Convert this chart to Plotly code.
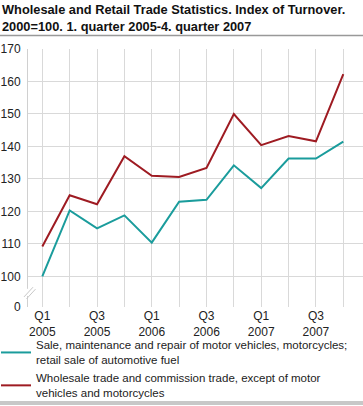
import plotly.graph_objects as go

quarters = ["Q1 2005", "Q2 2005", "Q3 2005", "Q4 2005",
            "Q1 2006", "Q2 2006", "Q3 2006", "Q4 2006",
            "Q1 2007", "Q2 2007", "Q3 2007", "Q4 2007"]
tick_labels = ["Q1<br>2005", "", "Q3<br>2005", "", "Q1<br>2006", "", "Q3<br>2006", "",
               "Q1<br>2007", "", "Q3<br>2007", ""]
sale_motor = [100.0, 120.3, 114.8, 118.8, 110.4, 123.0, 123.6, 134.2, 127.2, 136.3, 136.3, 141.5]
wholesale = [109.2, 125.0, 122.2, 137.0, 131.0, 130.6, 133.4, 150.0, 140.4, 143.2, 141.6, 162.3]
name_sale = "Sale, maintenance and repair of motor vehicles, motorcycles;<br>retail sale of automotive fuel"
name_whole = "Wholesale trade and commission trade, except of motor<br>vehicles and motorcycles"
y_tickvals = [90.6, 100, 110, 120, 130, 140, 150, 160, 170]
y_ticktext = ["0", "100", "110", "120", "130", "140", "150", "160", "170"]

x = list(range(len(quarters)))
fig = go.Figure()
fig.add_trace(go.Scatter(x=x, y=sale_motor, mode="lines", name=name_sale,
                         line=dict(color="#1a9c9c", width=2)))
fig.add_trace(go.Scatter(x=x, y=wholesale, mode="lines", name=name_whole,
                         line=dict(color="#9e1b22", width=2)))

L, R, T, B = 28, 0, 49, 99
PW = 363 - L - R
PH = 406 - T - B


def px(v):
    return (v - L) / PW


def py(v):
    return (406 - B - v) / PH


fig.update_layout(
    width=363, height=406,
    margin=dict(l=L, r=R, t=T, b=B, autoexpand=False),
    paper_bgcolor="white", plot_bgcolor="white",
    font=dict(family="Liberation Sans, Arial, sans-serif", size=12, color="#222"),
    showlegend=True,
    legend=dict(x=px(-4), xanchor="left", y=py(331), yanchor="top", orientation="v",
                font=dict(size=11.5, color="#222"), tracegroupgap=0,
                bgcolor="rgba(0,0,0,0)", borderwidth=0),
    annotations=[
        dict(text="<b>Wholesale and Retail Trade Statistics. Index of Turnover.<br>2000=100. 1. quarter 2005-4. quarter 2007</b>",
             xref="paper", yref="paper", x=px(0), y=py(0), xanchor="left", yanchor="top",
             align="left", showarrow=False, font=dict(size=12.8, color="#111")),
    ],
    xaxis=dict(range=[-0.523, 11.72], tickvals=x, ticktext=tick_labels,
               showgrid=True, gridcolor="#d9d9d9", gridwidth=1,
               ticks="", showline=False, zeroline=False, tickangle=0, fixedrange=True),
    yaxis=dict(range=[90.6, 170], tickvals=y_tickvals, ticktext=y_ticktext,
               showgrid=True, gridcolor="#d9d9d9", gridwidth=1,
               showline=True, linecolor="#d0d0d0", linewidth=1,
               zeroline=False, ticks="", ticklabelstandoff=4, fixedrange=True),
    shapes=[
        dict(type="line", xref="paper", yref="paper", x0=px(0), x1=px(363), y0=py(35.5), y1=py(35.5),
             line=dict(color="#999", width=1.5)),
        dict(type="line", xref="paper", yref="paper", x0=px(0), x1=px(363), y0=py(403), y1=py(403),
             line=dict(color="#c8c8c8", width=4)),
        dict(type="rect", xref="paper", yref="y", x0=px(26.5), x1=px(29.5), y0=94.0, y1=96.2,
             fillcolor="white", line=dict(width=0)),
        dict(type="line", xref="paper", yref="y", x0=px(24), x1=px(33), y0=93.7, y1=96.7,
             line=dict(color="#c8c8c8", width=1)),
        dict(type="line", xref="paper", yref="y", x0=px(26.5), x1=px(35.5), y0=93.1, y1=96.1,
             line=dict(color="#c8c8c8", width=1)),
    ],
)

fig.write_html("out.html", config={"displayModeBar": False},
               post_script="document.body.style.margin='0';")
